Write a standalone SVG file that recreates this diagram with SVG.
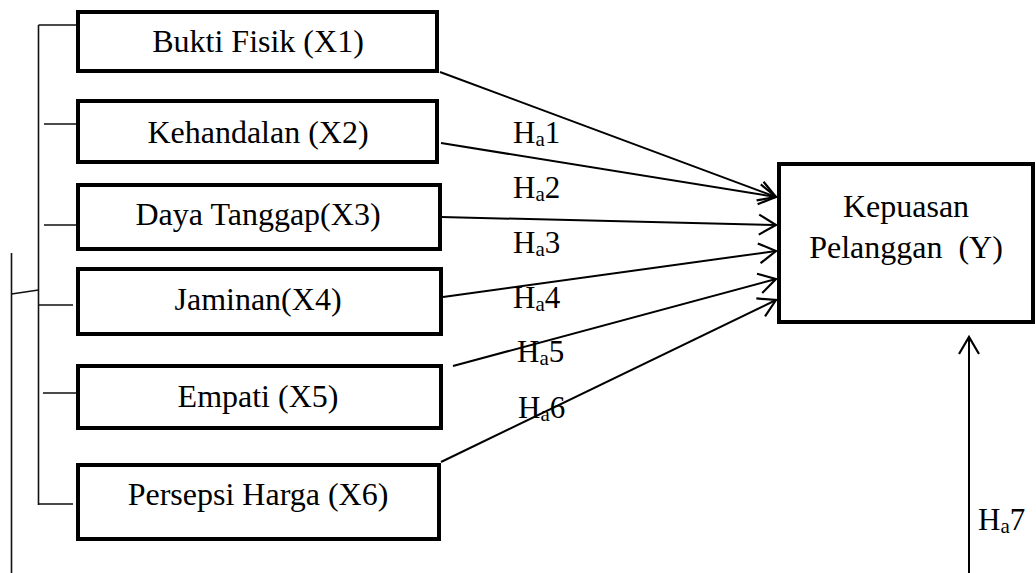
<svg xmlns="http://www.w3.org/2000/svg" width="1036" height="573" viewBox="0 0 1036 573">
  <style>
    .box { fill: #fff; stroke: #000; stroke-width: 4; }
    .lbl { font-family: "Liberation Serif", "Times New Roman", serif; font-size: 31px; fill: #000; }
    .name { font-size: 32px; }
    .mid { text-anchor: middle; }
    .sub { font-size: 21px; }
    .bracket { stroke: #111; stroke-width: 1.6; fill: none; }
    .arrow { stroke: #000; stroke-width: 2; fill: none; marker-end: url(#open); }
  </style>
  <defs>
    <marker id="open" markerUnits="userSpaceOnUse" viewBox="-20 -12 22 24" refX="0" refY="0" markerWidth="22" markerHeight="24" orient="auto" overflow="visible">
      <path d="M-17,-10 L0,0 L-17,10" fill="none" stroke="#000" stroke-width="2.2"/>
    </marker>
  </defs>

  <!-- grouping brackets on the left -->
  <g id="brackets">
    <path class="bracket" d="M38.5,25 V505 M38.5,25 H76 M44,124 H76 M44,225 H76 M39,305 H73 M43,393 H76 M38,504 H73"/>
    <path class="bracket" d="M11.5,253 V573 M11.5,294 L38.5,290"/>
  </g>

  <!-- connectors -->
  <g id="connectors">
    <line class="arrow" x1="440" y1="72" x2="776" y2="197"/>
    <line class="arrow" x1="441" y1="143" x2="776" y2="197"/>
    <line class="arrow" x1="441" y1="217" x2="776" y2="225"/>
    <line class="arrow" x1="443" y1="297" x2="776" y2="251"/>
    <line class="arrow" x1="453" y1="366" x2="776" y2="279"/>
    <line class="arrow" x1="441" y1="462" x2="776" y2="300"/>
    <line class="arrow" x1="969" y1="573" x2="969" y2="337"/>
  </g>

  <!-- hypothesis labels -->
  <g id="labels">
    <text class="lbl" x="513" y="143">H<tspan class="sub" dy="3">a</tspan><tspan dy="-3">1</tspan></text>
    <text class="lbl" x="513" y="198">H<tspan class="sub" dy="3">a</tspan><tspan dy="-3">2</tspan></text>
    <text class="lbl" x="513" y="253">H<tspan class="sub" dy="3">a</tspan><tspan dy="-3">3</tspan></text>
    <text class="lbl" x="513" y="308">H<tspan class="sub" dy="3">a</tspan><tspan dy="-3">4</tspan></text>
    <text class="lbl" x="517" y="362">H<tspan class="sub" dy="3">a</tspan><tspan dy="-3">5</tspan></text>
    <text class="lbl" x="518" y="418">H<tspan class="sub" dy="3">a</tspan><tspan dy="-3">6</tspan></text>
    <text class="lbl" x="978" y="530">H<tspan class="sub" dy="3">a</tspan><tspan dy="-3">7</tspan></text>
  </g>

  <g id="x1">
    <rect class="box" x="78" y="12" width="359" height="59"/>
    <text class="lbl name mid" x="258" y="52">Bukti Fisik (X1)</text>
  </g>
  <g id="x2">
    <rect class="box" x="78" y="101" width="359" height="61"/>
    <text class="lbl name mid" x="258" y="143">Kehandalan (X2)</text>
  </g>
  <g id="x3">
    <rect class="box" x="78" y="185" width="362" height="64"/>
    <text class="lbl name mid" x="258" y="225">Daya Tanggap(X3)</text>
  </g>
  <g id="x4">
    <rect class="box" x="78" y="269" width="363" height="65"/>
    <text class="lbl name mid" x="258" y="310">Jaminan(X4)</text>
  </g>
  <g id="x5">
    <rect class="box" x="78" y="366" width="363" height="62"/>
    <text class="lbl name mid" x="258" y="407">Empati (X5)</text>
  </g>
  <g id="x6">
    <rect class="box" x="78" y="465" width="361" height="74"/>
    <text class="lbl name mid" x="258" y="505">Persepsi Harga (X6)</text>
  </g>
  <g id="y">
    <rect class="box" x="779" y="164" width="254" height="158"/>
    <text class="lbl name mid" x="906" y="217">Kepuasan</text>
    <text class="lbl name mid" x="906" y="258" xml:space="preserve">Pelanggan  (Y)</text>
  </g>
</svg>
